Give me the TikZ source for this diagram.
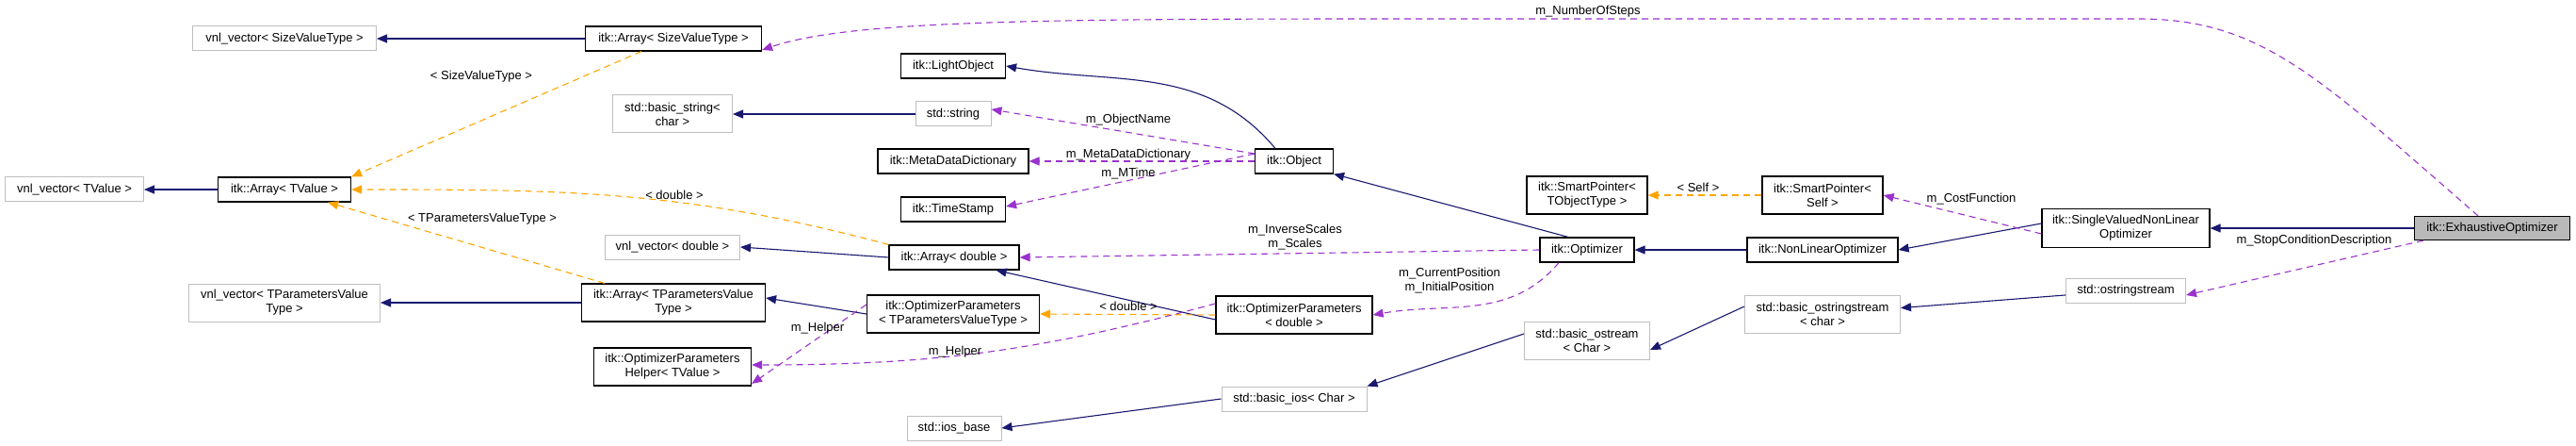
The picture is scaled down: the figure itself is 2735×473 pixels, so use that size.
\documentclass[tikz,border=0pt]{standalone}
\usepackage{fontspec}
\setmainfont{Liberation Sans}
\usetikzlibrary{arrows.meta}
\definecolor{navy}{HTML}{191970}
\definecolor{purp}{HTML}{9A32CD}
\definecolor{orng}{HTML}{FFA500}
\definecolor{gbord}{HTML}{BFBFBF}
\begin{document}
\begin{tikzpicture}[x=1pt,y=-1pt,
  every node/.style={font=\fontsize{13}{15}\selectfont},
  box/.style={draw=black,line width=1.2pt,fill=white,inner sep=0pt,align=center},
  ext/.style={draw=gbord,line width=1pt,fill=white,inner sep=0pt,align=center},
  inh/.style={draw=navy,line width=1.1pt,-{Triangle[width=9pt,length=11pt]}},
  use/.style={draw=purp,line width=1.1pt,dash pattern=on 7pt off 5pt,-{Triangle[width=9pt,length=11pt]}},
  tpl/.style={draw=orng,line width=1.1pt,dash pattern=on 7pt off 5pt,-{Triangle[width=9pt,length=11pt]}},
  lbl/.style={fill=none,align=center,inner sep=1pt}]
\useasboundingbox (0,0) rectangle (2735,473);
% nodes
\node[ext,minimum width=195,minimum height=26] (vnlSize) at (302,41) {vnl\_vector< SizeValueType >};
\node[box,minimum width=187,minimum height=26] (arrSize) at (715,41) {itk::Array< SizeValueType >};
\node[ext,minimum width=127,minimum height=40] (bstring) at (714,121) {std::basic\_string<\\char >};
\node[ext,minimum width=147,minimum height=26] (vnlT) at (79,201) {vnl\_vector< TValue >};
\node[box,minimum width=141,minimum height=26] (arrT) at (302,201) {itk::Array< TValue >};
\node[ext,minimum width=143,minimum height=26] (vnlD) at (714,262) {vnl\_vector< double >};
\node[box,minimum width=195,minimum height=40] (arrTP) at (715,321) {itk::Array< TParametersValue\\Type >};
\node[ext,minimum width=203,minimum height=40] (vnlTP) at (302,321) {vnl\_vector< TParametersValue\\Type >};
\node[box,minimum width=167,minimum height=40] (helper) at (714,389) {itk::OptimizerParameters\\Helper< TValue >};
\node[box,minimum width=111,minimum height=26] (light) at (1012,70) {itk::LightObject};
\node[ext,minimum width=80,minimum height=26] (sstring) at (1012,121) {std::string};
\node[box,minimum width=160,minimum height=26] (meta) at (1012,171) {itk::MetaDataDictionary};
\node[box,minimum width=111,minimum height=26] (tstamp) at (1012,222) {itk::TimeStamp};
\node[box,minimum width=83,minimum height=26] (object) at (1374,171) {itk::Object};
\node[box,minimum width=138,minimum height=26] (arrD) at (1013,273) {itk::Array< double >};
\node[box,minimum width=183,minimum height=40] (optParTP) at (1012,333) {itk::OptimizerParameters\\< TParametersValueType >};
\node[box,minimum width=166,minimum height=40] (optParD) at (1374,334) {itk::OptimizerParameters\\< double >};
\node[box,minimum width=100,minimum height=26] (optimizer) at (1685,265) {itk::Optimizer};
\node[box,minimum width=128,minimum height=40] (sptrT) at (1685,207) {itk::SmartPointer<\\TObjectType >};
\node[ext,minimum width=133,minimum height=40] (bostream) at (1685,361) {std::basic\_ostream\\< Char >};
\node[ext,minimum width=154,minimum height=26] (bios) at (1374,423) {std::basic\_ios< Char >};
\node[ext,minimum width=100,minimum height=26] (iosbase) at (1013,454) {std::ios\_base};
\node[box,minimum width=128,minimum height=40] (sptrS) at (1935,207) {itk::SmartPointer<\\Self >};
\node[box,minimum width=160,minimum height=26] (nonlin) at (1935,265) {itk::NonLinearOptimizer};
\node[box,minimum width=178,minimum height=41] (svnl) at (2257,242) {itk::SingleValuedNonLinear\\Optimizer};
\node[box,fill=gray!55,minimum width=165,minimum height=25] (exh) at (2646,242) {itk::ExhaustiveOptimizer};
\node[ext,minimum width=127,minimum height=26] (ostrs) at (2257,308) {std::ostringstream};
\node[ext,minimum width=165,minimum height=40] (bostrs) at (1935,333) {std::basic\_ostringstream\\< char >};
% edges
\draw[inh] (arrSize) -- (vnlSize);
\draw[tpl] (arrSize.south west) ++(60,0) -- (arrT.north east) node[pos=0.55,lbl,above] {};
\node[lbl] (l1) at (511,81) {< SizeValueType >};
\draw[tpl] (arrD.north west) to[out=165,in=0] node[pos=0.5,lbl,above]{} (arrT.east);
\node[lbl] (l2) at (716,207) {< double >};
\draw[tpl] ([xshift=25]arrTP.north west) -- ([xshift=-25]arrT.south east);
\node[lbl] (l3) at (512,232) {< TParametersValueType >};
\draw[inh] (arrT) -- (vnlT);
\draw[inh] (arrTP) -- (vnlTP);
\draw[inh] (optParTP.west) -- ([yshift=5]arrTP.east);
\draw[inh] (arrD.west) -- (vnlD.east);
\draw[inh] (sstring) -- (bstring);
\draw[inh] ([xshift=-20]object.north) to[out=130,in=-10] (light.east);
\draw[use] (object.west) ++(0,-8) -- ([yshift=5]sstring.east);
\node[lbl] (l4) at (1198,127) {m\_ObjectName};
\draw[use] (object) -- (meta);
\node[lbl] (l5) at (1198,164) {m\_MetaDataDictionary};
\draw[use] ([yshift=8]object.west) -- ([yshift=3]tstamp.east);
\node[lbl] (l6) at (1198,184) {m\_MTime};
\draw[inh] ([xshift=-20]optimizer.north) -- (object.south east);
\draw[use] (optimizer.west) -- (arrD.east);
\node[lbl] (l7) at (1375,252) {m\_InverseScales\\m\_Scales};
\draw[use] ([xshift=-30]optimizer.south) to[out=-130,in=10] (optParD.east);
\node[lbl] (l8) at (1539,298) {m\_CurrentPosition\\m\_InitialPosition};
\draw[inh] ([yshift=-5]optParD.west) -- ([xshift=-25]arrD.south east);
\draw[tpl] (optParD.west) -- (optParTP.east);
\node[lbl] (l9) at (1198,325) {< double >};
\draw[use] ([yshift=12]optParD.west) to[out=195,in=0] ([yshift=2]helper.east);
\node[lbl] (l10) at (1014,373) {m\_Helper};
\draw[use] ([yshift=10]optParTP.west) -- ([yshift=-18]helper.east);
\node[lbl] (l11) at (868,348) {m\_Helper};
\draw[inh] (nonlin) -- (optimizer);
\draw[inh] ([yshift=5]svnl.west) -- (nonlin.east);
\draw[use] ([yshift=-6]svnl.west) -- (sptrS.east);
\node[lbl] (l12) at (2093,211) {m\_CostFunction};
\draw[tpl] (sptrS) -- (sptrT);
\node[lbl] (l13) at (1803,199) {< Self >};
\draw[inh] (exh) -- (svnl);
\draw[use] ([xshift=10]exh.south west) -- ([yshift=-5]ostrs.east);
\node[lbl] (l14) at (2457,255) {m\_StopConditionDescription};
\coordinate (c1) at (2270,20);
\draw[use] ([xshift=-15]exh.north) .. controls (2460,80) and (2400,20) .. (c1) -- (1480,20) .. controls (1100,20) and (900,22) .. ([yshift=-12]arrSize.east);
\node[lbl] (l15) at (1686,12) {m\_NumberOfSteps};
\draw[inh] (ostrs) -- (bostrs);
\draw[inh] ([yshift=8]bostrs.west) -- ([yshift=-10]bostream.east);
\draw[inh] ([yshift=7]bostream.west) -- (bios.north east);
\draw[inh] (bios.west) -- (iosbase.east);
\end{tikzpicture}
\end{document}
